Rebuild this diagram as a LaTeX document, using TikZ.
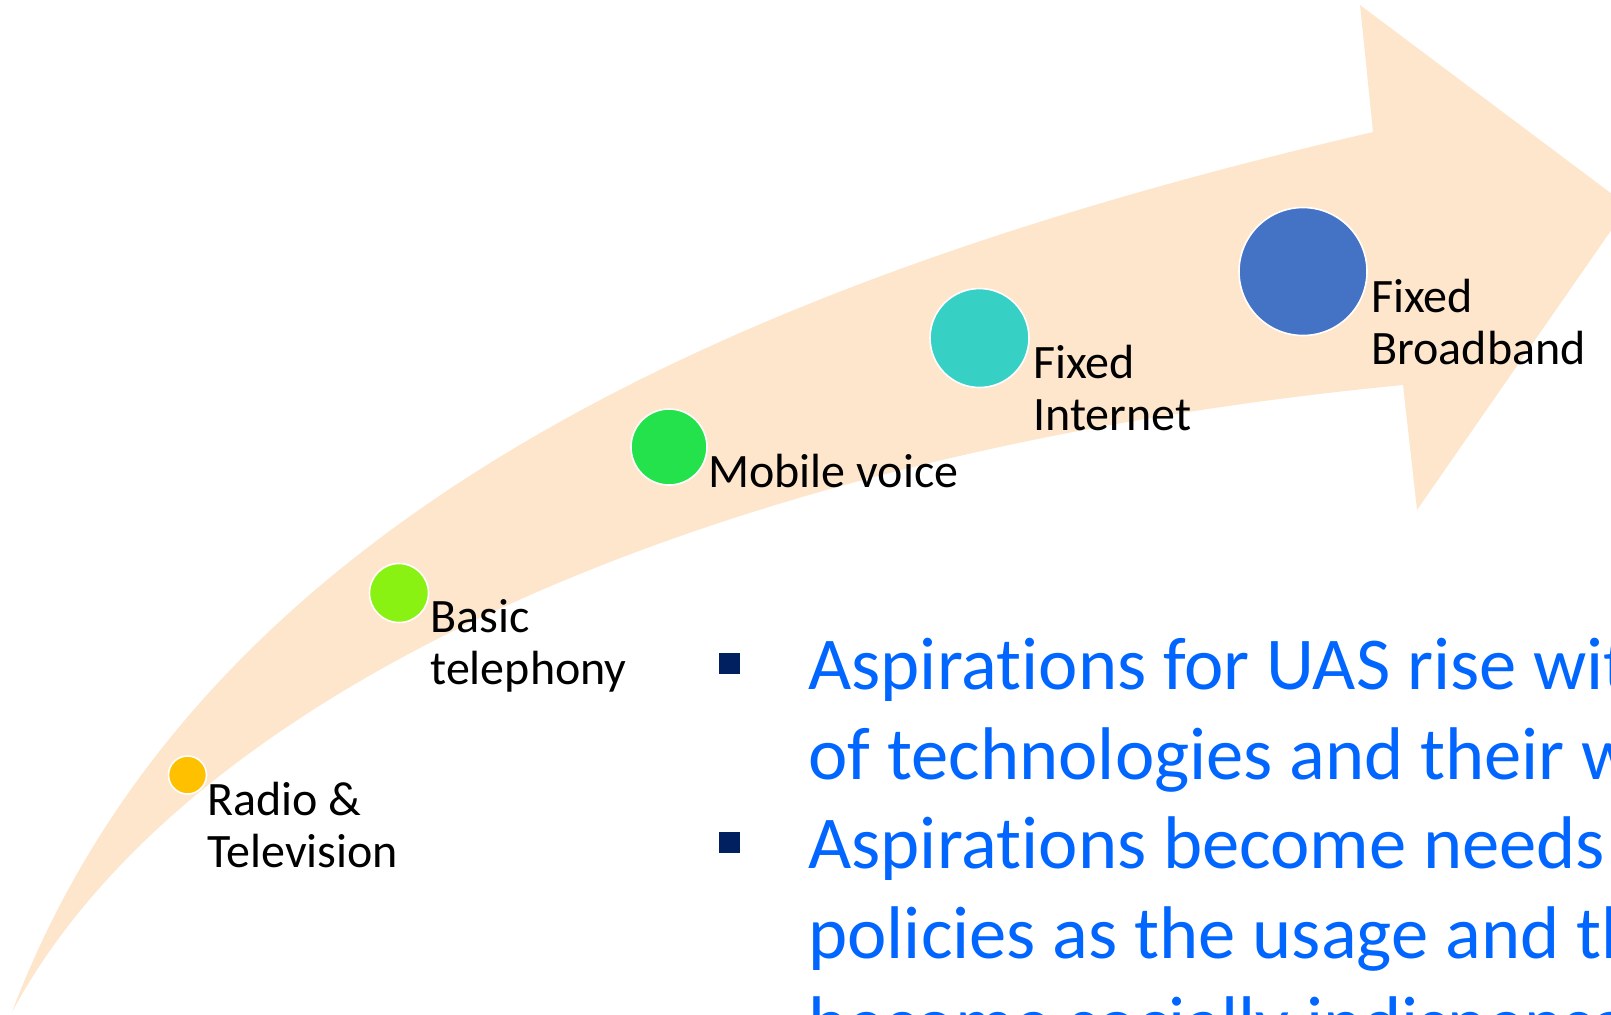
\documentclass[tikz,border=0pt]{standalone}
\usepackage{fontspec}
\setmainfont{Carlito}[Ligatures=NoCommon]

\definecolor{bandfill}{HTML}{FDE6CC}
\definecolor{radiocol}{HTML}{FFC000}
\definecolor{phonecol}{HTML}{89F212}
\definecolor{mobilecol}{HTML}{24E24B}
\definecolor{netcol}{HTML}{36D0C4}
\definecolor{broadcol}{HTML}{4472C4}
\definecolor{navy}{HTML}{002060}
\definecolor{textblue}{HTML}{0066FF}

\tikzset{
    stage/.style={circle, draw=white, line width=0.8pt, inner sep=0pt},
    stagelabel/.style={anchor=base west, inner sep=0pt, align=left,
        font=\fontsize{24}{25.75}\selectfont},
    bulletline/.style={anchor=base west, inner sep=0pt, align=left, text=textblue,
        font=\fontsize{37.3}{44.85}\selectfont},
    bulletbox/.style={fill=navy, minimum size=10.5pt, inner sep=0pt},
}

\begin{document}
\begin{tikzpicture}[x=0.5pt, y=-0.5pt]
    \useasboundingbox (0,0) rectangle (1611,1014);
    \clip (0,0) rectangle (1611,1014);

    % curved band with its arrow head
    \fill[bandfill] (12,1012) .. controls (200,515) and (745,278) .. (1373,132)
        -- (1360,5) -- (1628,206) -- (1417,510) -- (1403,385)
        .. controls (710,452) and (185,690) .. (12,1012) -- cycle;

    % milestones
    \node[stage, fill=radiocol, minimum size=19pt] (radio) at (187.5,775) {};
    \node[stage, fill=phonecol, minimum size=29.5pt] (phone) at (399,593) {};
    \node[stage, fill=mobilecol, minimum size=38pt] (mobile) at (669,447) {};
    \node[stage, fill=netcol, minimum size=49.5pt] (internet) at (979.5,338) {};
    \node[stage, fill=broadcol, minimum size=64pt] (broadband) at (1303,271.5) {};

    % labels sit on the baseline of their last line
    \node[stagelabel] (radiotext) at (207,867) {Radio \&\\Television};
    \node[stagelabel] (phonetext) at (430,684) {Basic\\telephony};
    \node[stagelabel] (mobiletext) at (708,487) {Mobile voice};
    \node[stagelabel] (internettext) at (1033,430) {Fixed\\Internet};
    \node[stagelabel] (broadbandtext) at (1371,364) {Fixed\\Broadband};

    % bullet points
    \node[bulletbox] (bulletone) at (729.5,663) {};
    \node[bulletbox] (bullettwo) at (729.5,842) {};
    \node[bulletline] (pointone) at (808,779) {Aspirations for UAS rise wit\\of technologies and their w};
    \node[bulletline] (pointtwo) at (808,1048) {Aspirations become needs\\policies as the usage and th\\become socially indispensa};
\end{tikzpicture}
\end{document}
